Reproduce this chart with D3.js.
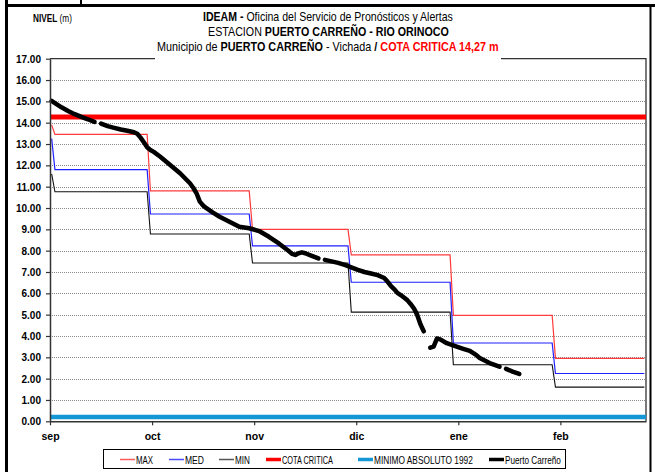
<!DOCTYPE html>
<html>
<head>
<meta charset="utf-8">
<script src="https://cdn.jsdelivr.net/npm/d3@7"></script>
<style>
  html, body { margin: 0; padding: 0; background: #fff; }
  svg { display: block; }
</style>
</head>
<body>
<svg id="chart" width="655" height="472"></svg>
<script>
// ---- Axis labels (daily category axis, a tick every 31 days) ----
const monthLabels = ["sep", "oct", "nov", "dic", "ene", "feb"];
const tickDays = [0, 31, 62, 93, 124, 155];
const totalDays = 181;
const yTicks = [0, 1, 2, 3, 4, 5, 6, 7, 8, 9, 10, 11, 12, 13, 14, 15, 16, 17];

// ---- Historical monthly levels (m), calendar months sep..feb ----
const monthStart = [0, 30, 61, 91, 122, 153];
const monthEnd = [29, 60, 90, 121, 152, 180];
const maxLevel = [13.45, 10.80, 9.00, 7.80, 4.97, 2.95];
const medLevel = [11.80, 9.72, 8.22, 6.52, 3.67, 2.24];
const minLevel = [10.76, 8.78, 7.42, 5.12, 2.65, 1.60];
// value of each historical series on the first day
const firstDay = { max: 13.90, med: 13.25, min: 11.60 };

// ---- Reference levels ----
const cotaCritica = 14.27;
const minimoAbsoluto = 0.20;

// ---- Observed daily level, Puerto Carreño (null = no reading) ----
const obsDays = [0, 1, 3, 5, 7, 9, 11, 13, 14, 15, 17, 19, 21, 23, 25, 26, 27, 28, 29, 30,
  31, 33, 36, 39, 42, 43, 44, 45, 46, 47, 49, 51, 54, 57, 60, 63, 66, 69, 72, 73,
  74, 75, 76, 77, 79, 81, 82, 83, 85, 87, 89, 91, 93, 95, 97, 99, 101, 102, 103, 104,
  105, 106, 107, 108, 109, 110, 111, 112, 113, 114, 115, 116, 117, 118, 120, 123, 125, 127, 129, 130,
  133, 136, 137, 138, 140, 142];
const obsLevels = [15.02, 14.92, 14.72, 14.55, 14.40, 14.27, 14.16, 14.04, null, 13.96, 13.84, 13.76, 13.68, 13.62, 13.55, 13.48, 13.30, 13.08, 12.85, 12.72,
  12.63, 12.40, 12.02, 11.63, 11.16, 10.95, 10.69, 10.30, 10.12, 9.99, 9.78, 9.59, 9.36, 9.12, 9.05, 8.92, 8.65, 8.34, 7.98, 7.85,
  7.80, 7.88, 7.92, 7.88, 7.76, 7.64, null, 7.57, 7.50, 7.43, 7.33, 7.22, 7.10, 7.00, 6.93, 6.85, 6.72, 6.55, 6.35, 6.20,
  6.02, 5.92, 5.80, 5.68, 5.50, 5.30, 5.00, 4.55, 4.22, null, 3.45, 3.50, 3.88, 3.84, 3.66, 3.50, 3.40, 3.30, 3.10, 2.97,
  2.73, 2.56, null, 2.46, 2.33, 2.22];

const svg = d3.select("#chart");
const plot = { left: 50, right: 646, top: 58.7, bottom: 421.3 };

const x = d3.scaleLinear().domain([0, totalDays]).range([plot.left, plot.right]);
const y = d3.scaleLinear().domain([0, 17]).range([plot.bottom, plot.top]);
// each day occupies one category slot; its value sits at the slot centre
const xDay = d => x(d + 0.5);

const font = "'Liberation Sans', Arial, sans-serif";

// one line of (possibly mixed-weight) text, squeezed horizontally to a width,
// standing in for the condensed face of the original sheet
function condensedText(parent, x0, yBase, width, size, runs) {
  const g = parent.append("g");
  const t = g.append("text")
    .attr("x", 0).attr("y", 0)
    .attr("font-family", font).attr("font-size", size).attr("fill", "#000");
  runs.forEach(r => t.append("tspan")
    .attr("font-weight", r.bold ? "bold" : "normal")
    .attr("fill", r.color || "#000")
    .text(r.text));
  const natural = t.node().getComputedTextLength();
  g.attr("transform", `translate(${x0},${yBase}) scale(${width / natural},1)`);
  return g;
}

// ---- Outer frame ----
const frame = svg.append("g").attr("stroke", "#000").attr("fill", "none");
frame.append("line").attr("x1", 6.5).attr("x2", 6.5).attr("y1", 0).attr("y2", 472).attr("stroke-width", 3);
frame.append("line").attr("x1", 5).attr("x2", 655).attr("y1", 5.5).attr("y2", 5.5).attr("stroke-width", 3);
frame.append("line").attr("x1", 81).attr("x2", 81).attr("y1", 0).attr("y2", 5).attr("stroke-width", 2);
frame.append("line").attr("x1", 650.5).attr("x2", 650.5).attr("y1", 5).attr("y2", 472).attr("stroke-width", 2);

// ---- Gridlines ----
svg.append("g")
  .selectAll("line")
  .data(yTicks.filter(v => v > 0 && v < 17))
  .join("line")
  .attr("x1", plot.left).attr("x2", plot.right)
  .attr("y1", d => Math.round(y(d)) + 0.5).attr("y2", d => Math.round(y(d)) + 0.5)
  .attr("stroke", "#8a8a8a").attr("stroke-width", 1).attr("stroke-dasharray", "1,1");

// plot area border (top / right)
svg.append("path")
  .attr("d", `M${plot.left},${plot.top}H${plot.right}V${plot.bottom}`)
  .attr("fill", "none").attr("stroke", "#333").attr("stroke-width", 1.3);

// ---- Historical step series ----
function stepPoints(levels, first) {
  const pts = [[0, first]];
  levels.forEach((v, i) => {
    pts.push([i === 0 ? 1 : monthStart[i], v]);
    pts.push([monthEnd[i], v]);
  });
  return pts;
}
const line = d3.line().x(d => xDay(d[0])).y(d => y(d[1]));

const historical = [
  { name: "MAX", pts: stepPoints(maxLevel, firstDay.max), color: "#ff3b3b", width: 1.2 },
  { name: "MED", pts: stepPoints(medLevel, firstDay.med), color: "#1f1fff", width: 1.2 },
  { name: "MIN", pts: stepPoints(minLevel, firstDay.min), color: "#111", width: 1.1 }
];
svg.append("g").selectAll("path")
  .data(historical)
  .join("path")
  .attr("d", d => line(d.pts))
  .attr("fill", "none")
  .attr("stroke", d => d.color)
  .attr("stroke-width", d => d.width);

// ---- Reference levels ----
svg.append("line")
  .attr("x1", plot.left).attr("x2", plot.right)
  .attr("y1", y(cotaCritica)).attr("y2", y(cotaCritica))
  .attr("stroke", "#ff0000").attr("stroke-width", 5);
svg.append("line")
  .attr("x1", plot.left).attr("x2", plot.right)
  .attr("y1", y(minimoAbsoluto)).attr("y2", y(minimoAbsoluto))
  .attr("stroke", "#1497d4").attr("stroke-width", 4.5);

// ---- Observed series ----
const obs = obsDays.map((d, i) => [d, obsLevels[i]]);
svg.append("path")
  .attr("d", d3.line().defined(d => d[1] !== null).x(d => xDay(d[0])).y(d => y(d[1]))(obs))
  .attr("fill", "none")
  .attr("stroke", "#000")
  .attr("stroke-width", 4.5)
  .attr("stroke-linejoin", "round")
  .attr("stroke-linecap", "round");

// ---- Axes ----
const yAxis = svg.append("g")
  .attr("transform", `translate(${plot.left},0)`)
  .call(d3.axisLeft(y).tickValues(yTicks).tickFormat(d3.format(".2f")).tickSize(4).tickSizeOuter(0));
yAxis.select(".domain").attr("stroke", "#333").attr("stroke-width", 1.5);
yAxis.selectAll(".tick line").attr("stroke", "#333").attr("stroke-width", 1.2);
yAxis.selectAll(".tick text")
  .attr("x", -9).attr("dy", "0.35em")
  .attr("font-family", font).attr("font-size", 10).attr("font-weight", "bold").attr("fill", "#000");

const xAxis = svg.append("g")
  .attr("transform", `translate(0,${plot.bottom})`)
  .call(d3.axisBottom(x).tickValues(tickDays).tickFormat((d, i) => monthLabels[i]).tickSize(4).tickSizeOuter(0));
xAxis.select(".domain").attr("stroke", "#333").attr("stroke-width", 1.5);
xAxis.selectAll(".tick line").attr("stroke", "#333").attr("stroke-width", 1.2);
xAxis.selectAll(".tick text")
  .attr("y", 11).attr("dy", "0.71em")
  .attr("font-family", font).attr("font-size", 10.5).attr("font-weight", "bold").attr("fill", "#000");

// ---- Title block ----
svg.append("rect").attr("x", 155).attr("y", 8).attr("width", 346).attr("height", 55).attr("fill", "#fff");
condensedText(svg, 203, 21, 250, 12, [
  { text: "IDEAM -", bold: true },
  { text: " Oficina del Servicio de Pronósticos y Alertas" }
]);
condensedText(svg, 208, 36, 241, 12, [
  { text: "ESTACION " },
  { text: "PUERTO CARREÑO - RIO ORINOCO", bold: true }
]);
condensedText(svg, 157, 51, 342, 12, [
  { text: "Municipio de " },
  { text: "PUERTO CARREÑO", bold: true },
  { text: " - Vichada " },
  { text: "/ ", bold: true },
  { text: "COTA CRITICA 14,27 m", bold: true, color: "#ff0000" }
]);
condensedText(svg, 33, 22, 39, 10, [
  { text: "NIVEL", bold: true },
  { text: " (m)" }
]);

// ---- Legend ----
const legendItems = [
  { label: "MAX", color: "#ff5a5a", width: 1.5, x: 120, w: 17 },
  { label: "MED", color: "#4a4aff", width: 1.5, x: 169, w: 19 },
  { label: "MIN", color: "#555", width: 1.5, x: 219, w: 15 },
  { label: "COTA CRITICA", color: "#ff0000", width: 3.5, x: 266, w: 51 },
  { label: "MINIMO ABSOLUTO 1992", color: "#1497d4", width: 3.5, x: 358, w: 99 },
  { label: "Puerto Carreño", color: "#000", width: 3.5, x: 489, w: 56 }
];
const legend = svg.append("g");
legend.append("rect").attr("x", 103.5).attr("y", 449.5).attr("width", 462).attr("height", 19)
  .attr("fill", "#fff").attr("stroke", "#000").attr("stroke-width", 1);
legend.selectAll("line.swatch").data(legendItems).join("line")
  .attr("class", "swatch")
  .attr("x1", d => d.x).attr("x2", d => d.x + 15)
  .attr("y1", 459.5).attr("y2", 459.5)
  .attr("stroke", d => d.color).attr("stroke-width", d => d.width);
legendItems.forEach(d => condensedText(legend, d.x + 16, 463.5, d.w, 10, [{ text: d.label }]));
</script>
</body>
</html>
